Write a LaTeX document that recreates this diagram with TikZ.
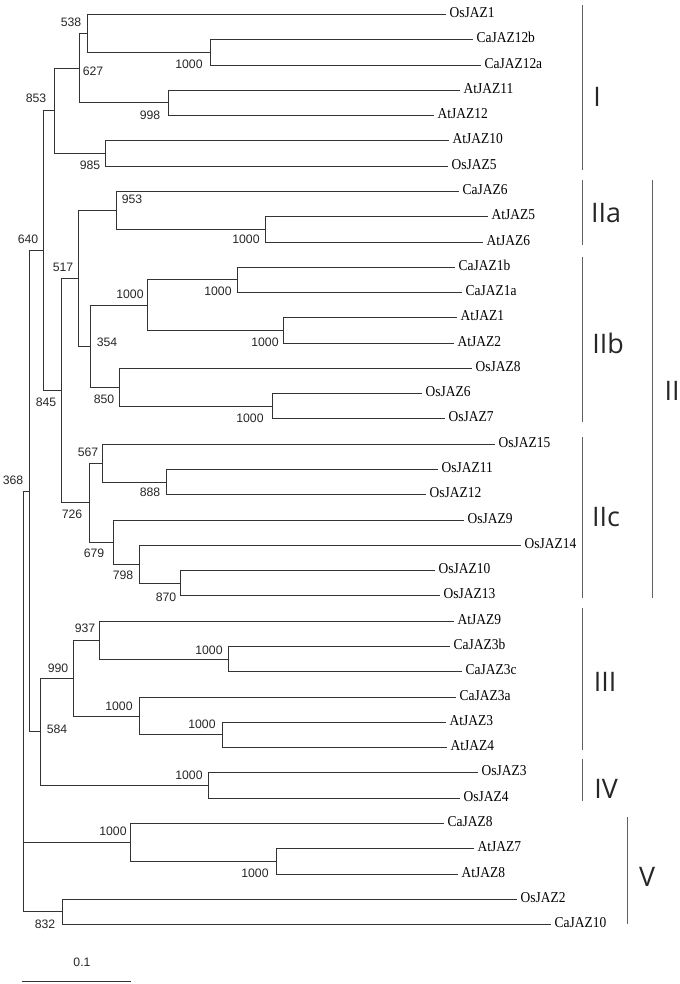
\documentclass[tikz,border=0pt]{standalone}
\usepackage{graphicx}
\usepackage{fontspec}
\setmainfont{Liberation Serif}
\newfontfamily\bootfont{Liberation Sans}
\newfontfamily\cladefont{Open Sans}
\begin{document}
\begin{tikzpicture}[x=1bp,y=-1bp,
  branch/.style={draw=black!80, line width=1.5bp},
  leaf/.style={anchor=west, inner xsep=4pt, inner ysep=0pt, text height=7pt, text depth=0pt, font=\fontsize{13.5}{14}\selectfont},
  boot/.style={inner sep=0pt, font=\bootfont\fontsize{12.3}{13}\selectfont, text=black!85},
  clade/.style={inner sep=0pt, font=\cladefont\fontsize{27}{28}\selectfont, text=black!85},
  bracket/.style={draw=black!62, line width=1.6bp}]
\useasboundingbox (0,0) rectangle (680,984);
\newcommand\leafnode[3]{\node[leaf] (#1) at ({#3+0.5},{round(14+25.28*#2)+0.5}) {\scalebox{1}[1.12]{#1}};}
% leaves
\leafnode{OsJAZ1}{0}{445}
\leafnode{CaJAZ12b}{1}{472}
\leafnode{CaJAZ12a}{2}{480}
\leafnode{AtJAZ11}{3}{459}
\leafnode{AtJAZ12}{4}{433}
\leafnode{AtJAZ10}{5}{448}
\leafnode{OsJAZ5}{6}{447}
\leafnode{CaJAZ6}{7}{458}
\leafnode{AtJAZ5}{8}{487}
\leafnode{AtJAZ6}{9}{482}
\leafnode{CaJAZ1b}{10}{454}
\leafnode{CaJAZ1a}{11}{461}
\leafnode{AtJAZ1}{12}{456}
\leafnode{AtJAZ2}{13}{453}
\leafnode{OsJAZ8}{14}{471}
\leafnode{OsJAZ6}{15}{421}
\leafnode{OsJAZ7}{16}{444}
\leafnode{OsJAZ15}{17}{494}
\leafnode{OsJAZ11}{18}{437}
\leafnode{OsJAZ12}{19}{425}
\leafnode{OsJAZ9}{20}{463}
\leafnode{OsJAZ14}{21}{520}
\leafnode{OsJAZ10}{22}{434}
\leafnode{OsJAZ13}{23}{439}
\leafnode{AtJAZ9}{24}{453}
\leafnode{CaJAZ3b}{25}{449}
\leafnode{CaJAZ3c}{26}{461}
\leafnode{CaJAZ3a}{27}{455}
\leafnode{AtJAZ3}{28}{445}
\leafnode{AtJAZ4}{29}{446}
\leafnode{OsJAZ3}{30}{477}
\leafnode{OsJAZ4}{31}{459}
\leafnode{CaJAZ8}{32}{443}
\leafnode{AtJAZ7}{33}{473}
\leafnode{AtJAZ8}{34}{457}
\leafnode{OsJAZ2}{35}{516}
\leafnode{CaJAZ10}{36}{550}
% internal nodes
\coordinate (a1) at (210.5,52.5);
\coordinate (a2) at (87.5,33.5);
\coordinate (a3) at (168.5,102.5);
\coordinate (a4) at (79.5,68.5);
\coordinate (a5) at (105.5,153.5);
\coordinate (a6) at (54.5,110.5);
\coordinate (b1) at (265.5,229.5);
\coordinate (b2) at (116.5,210.5);
\coordinate (c1) at (237.5,279.5);
\coordinate (c2) at (283.5,330.5);
\coordinate (c3) at (147.5,305.5);
\coordinate (c4) at (272.5,406.5);
\coordinate (c5) at (119.5,387.5);
\coordinate (c6) at (90.5,346.5);
\coordinate (c7) at (78.5,278.5);
\coordinate (d1) at (166.5,482.5);
\coordinate (d2) at (102.5,463.5);
\coordinate (d3) at (180.5,583.5);
\coordinate (d4) at (139.5,564.5);
\coordinate (d5) at (113.5,542.5);
\coordinate (d6) at (89.5,502.5);
\coordinate (d7) at (61.5,390.5);
\coordinate (e1) at (43.5,250.5);
\coordinate (f1) at (228.5,659.5);
\coordinate (f2) at (99.5,640.5);
\coordinate (f3) at (222.5,734.5);
\coordinate (f4) at (139.5,716.5);
\coordinate (f5) at (73.5,678.5);
\coordinate (f6) at (208.5,785.5);
\coordinate (f7) at (40.5,731.5);
\coordinate (g1) at (29.5,491.5);
\coordinate (h1) at (276.5,861.5);
\coordinate (h2) at (130.5,842.5);
\coordinate (h3) at (62.5,911.5);
\coordinate (root) at (23.5,701.5);
% branches
\draw[branch] (CaJAZ12b.west) -| (a1) |- (CaJAZ12a.west);
\draw[branch] (OsJAZ1.west) -| (a2) |- (a1);
\draw[branch] (AtJAZ11.west) -| (a3) |- (AtJAZ12.west);
\draw[branch] (a2) -| (a4) |- (a3);
\draw[branch] (AtJAZ10.west) -| (a5) |- (OsJAZ5.west);
\draw[branch] (a4) -| (a6) |- (a5);
\draw[branch] (AtJAZ5.west) -| (b1) |- (AtJAZ6.west);
\draw[branch] (CaJAZ6.west) -| (b2) |- (b1);
\draw[branch] (CaJAZ1b.west) -| (c1) |- (CaJAZ1a.west);
\draw[branch] (AtJAZ1.west) -| (c2) |- (AtJAZ2.west);
\draw[branch] (c1) -| (c3) |- (c2);
\draw[branch] (OsJAZ6.west) -| (c4) |- (OsJAZ7.west);
\draw[branch] (OsJAZ8.west) -| (c5) |- (c4);
\draw[branch] (c3) -| (c6) |- (c5);
\draw[branch] (b2) -| (c7) |- (c6);
\draw[branch] (OsJAZ11.west) -| (d1) |- (OsJAZ12.west);
\draw[branch] (OsJAZ15.west) -| (d2) |- (d1);
\draw[branch] (OsJAZ10.west) -| (d3) |- (OsJAZ13.west);
\draw[branch] (OsJAZ14.west) -| (d4) |- (d3);
\draw[branch] (OsJAZ9.west) -| (d5) |- (d4);
\draw[branch] (d2) -| (d6) |- (d5);
\draw[branch] (c7) -| (d7) |- (d6);
\draw[branch] (a6) -| (e1) |- (d7);
\draw[branch] (CaJAZ3b.west) -| (f1) |- (CaJAZ3c.west);
\draw[branch] (AtJAZ9.west) -| (f2) |- (f1);
\draw[branch] (AtJAZ3.west) -| (f3) |- (AtJAZ4.west);
\draw[branch] (CaJAZ3a.west) -| (f4) |- (f3);
\draw[branch] (f2) -| (f5) |- (f4);
\draw[branch] (OsJAZ3.west) -| (f6) |- (OsJAZ4.west);
\draw[branch] (f5) -| (f7) |- (f6);
\draw[branch] (e1) -| (g1) |- (f7);
\draw[branch] (AtJAZ7.west) -| (h1) |- (AtJAZ8.west);
\draw[branch] (CaJAZ8.west) -| (h2) |- (h1);
\draw[branch] (OsJAZ2.west) -| (h3) |- (CaJAZ10.west);
\draw[branch] (g1) -| (root) |- (h3);
\draw[branch] (h2) -- (h2 -| root);
% bootstrap values
\node[boot] (v538) at (71,22) {538};
\node[boot] (v627) at (93,71) {627};
\node[boot] (v1000a) at (189,64) {1000};
\node[boot] (v853) at (36,98) {853};
\node[boot] (v998) at (150,115) {998};
\node[boot] (v985) at (90,165) {985};
\node[boot] (v953) at (132,199) {953};
\node[boot] (v1000b) at (246,239) {1000};
\node[boot] (v640) at (28,239) {640};
\node[boot] (v517) at (63,267) {517};
\node[boot] (v1000c) at (130,294) {1000};
\node[boot] (v1000d) at (218,291) {1000};
\node[boot] (v354) at (107,342) {354};
\node[boot] (v1000e) at (265,342) {1000};
\node[boot] (v845) at (46,402) {845};
\node[boot] (v850) at (104,399) {850};
\node[boot] (v1000f) at (250,418) {1000};
\node[boot] (v567) at (88,452) {567};
\node[boot] (v368) at (13,480) {368};
\node[boot] (v888) at (150,492) {888};
\node[boot] (v726) at (72,514) {726};
\node[boot] (v679) at (94,553) {679};
\node[boot] (v798) at (123,575) {798};
\node[boot] (v870) at (166,597) {870};
\node[boot] (v937) at (85,628) {937};
\node[boot] (v1000g) at (209,650) {1000};
\node[boot] (v990) at (58,668) {990};
\node[boot] (v1000h) at (119,706) {1000};
\node[boot] (v1000i) at (202,724) {1000};
\node[boot] (v584) at (57,729) {584};
\node[boot] (v1000j) at (189,775) {1000};
\node[boot] (v1000k) at (113,831) {1000};
\node[boot] (v1000l) at (255,873) {1000};
\node[boot] (v832) at (45,924) {832};
% scale bar
\coordinate (s0) at (21.5,981.5);
\coordinate (s1) at (130.5,981.5);
\draw[branch] (s0) -- (s1);
\node[boot] (scale) at (82,962) {0.1};
% clade brackets
\coordinate (kI1) at (582.5,5);    \coordinate (kI2) at (582.5,170);
\coordinate (kIIa1) at (582.5,180); \coordinate (kIIa2) at (582.5,245);
\coordinate (kIIb1) at (582.5,257); \coordinate (kIIb2) at (582.5,422);
\coordinate (kIIc1) at (582.5,437); \coordinate (kIIc2) at (582.5,598);
\coordinate (kIII1) at (582.5,608); \coordinate (kIII2) at (582.5,750);
\coordinate (kIV1) at (582.5,759);  \coordinate (kIV2) at (582.5,801);
\coordinate (kII1) at (652.5,180); \coordinate (kII2) at (652.5,598);
\coordinate (kV1) at (627.5,817);   \coordinate (kV2) at (627.5,924);
\draw[bracket] (kI1) -- (kI2);
\draw[bracket] (kIIa1) -- (kIIa2);
\draw[bracket] (kIIb1) -- (kIIb2);
\draw[bracket] (kIIc1) -- (kIIc2);
\draw[bracket] (kIII1) -- (kIII2);
\draw[bracket] (kIV1) -- (kIV2);
\draw[bracket] (kII1) -- (kII2);
\draw[bracket] (kV1) -- (kV2);
\node[clade] (lI) at (597,97) {I};
\node[clade] (lIIa) at (606,213) {IIa};
\node[clade] (lIIb) at (608,343) {IIb};
\node[clade] (lII) at (672,391) {II};
\node[clade] (lIIc) at (606,517) {IIc};
\node[clade] (lIII) at (605,682) {III};
\node[clade] (lIV) at (606,789) {IV};
\node[clade] (lV) at (647,877) {V};
\end{tikzpicture}
\end{document}
